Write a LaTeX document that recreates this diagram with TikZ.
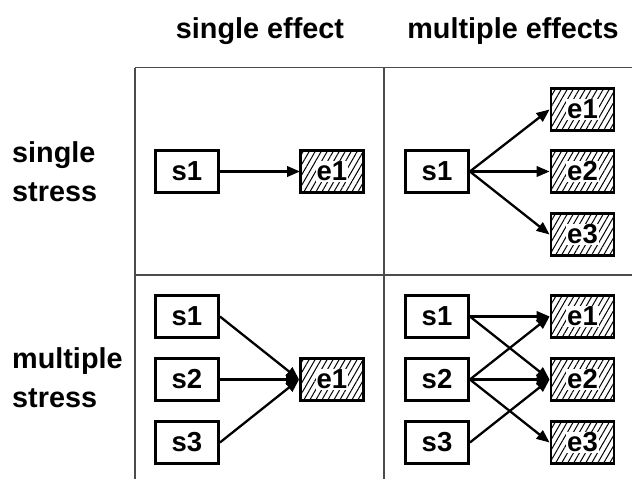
\documentclass[tikz,border=0pt]{standalone}
\usepackage{fontspec}
\setmainfont{Liberation Sans}
\usetikzlibrary{arrows.meta,patterns.meta}
\newcommand{\haloed}[1]{{\setlength{\fboxsep}{0.8pt}\colorbox{white}{#1}}}
\tikzset{
  grid/.style={draw=black!70, line width=1.3pt},
  sbox/.style={draw=black, line width=2.8pt, minimum width=63pt, minimum height=42pt, inner sep=0pt, font=\fontsize{27.5}{30}\selectfont\bfseries},
  ebox/.style={sbox, pattern={Lines[angle=60,distance=5.2pt,line width=1pt]}},
  link/.style={line width=2.3pt, -{Triangle[length=13pt,width=10.5pt]}},
  head/.style={anchor=base, inner sep=0pt, font=\fontsize{28.8}{34}\selectfont\bfseries},
  rowlab/.style={anchor=west, inner sep=0pt, align=left, font=\fontsize{28.8}{39}\selectfont\bfseries}
}
\begin{document}
\begin{tikzpicture}[x=1pt,y=-1pt]
\useasboundingbox (0,0) rectangle (632,479);
% grid
\coordinate (gTL) at (135,67.5);
\coordinate (gTR) at (632,67.5);
\coordinate (gML) at (135,275);
\coordinate (gMR) at (632,275);
\coordinate (gBL) at (135,479);
\coordinate (gTM) at (384,67.5);
\coordinate (gBM) at (384,479);
\draw[grid] (gTL) -- (gTR);
\draw[grid] (gML) -- (gMR);
\draw[grid] (gTL) -- (gBL);
\draw[grid] (gTM) -- (gBM);
% headers
\node[head] (h1) at (260,38) {single effect};
\node[head] (h2) at (513,38) {multiple effects};
\node[rowlab] (r1) at (12,172) {single\\stress};
\node[rowlab] (r2) at (12,377.5) {multiple\\stress};
% top-left
\node[sbox] (a1) at (187,171.5) {s1};
\node[ebox] (ae1) at (332,171.5) {\haloed{e1}};
\draw[link] (a1.east) -- (ae1.west);
% top-right
\node[sbox] (b1) at (437,171.5) {s1};
\node[ebox] (be1) at (582.5,109.5) {\haloed{e1}};
\node[ebox] (be2) at (582.5,171.5) {\haloed{e2}};
\node[ebox] (be3) at (582.5,234.5) {\haloed{e3}};
\draw[link] (b1.east) -- (be1.west);
\draw[link] (b1.east) -- (be2.west);
\draw[link] (b1.east) -- (be3.west);
% bottom-left
\node[sbox] (c1) at (187,316.5) {s1};
\node[sbox] (c2) at (187,379.5) {s2};
\node[sbox] (c3) at (187,442.5) {s3};
\node[ebox] (ce1) at (332,379.5) {\haloed{e1}};
\draw[link] (c1.east) -- (ce1.west);
\draw[link] (c2.east) -- (ce1.west);
\draw[link] (c3.east) -- (ce1.west);
% bottom-right
\node[sbox] (d1) at (437,316.5) {s1};
\node[sbox] (d2) at (437,379.5) {s2};
\node[sbox] (d3) at (437,442.5) {s3};
\node[ebox] (de1) at (582.5,316.5) {\haloed{e1}};
\node[ebox] (de2) at (582.5,379.5) {\haloed{e2}};
\node[ebox] (de3) at (582.5,442.5) {\haloed{e3}};
\draw[link] (d1.east) -- (de1.west);
\draw[link] (d1.east) -- (de2.west);
\draw[link] (d2.east) -- (de1.west);
\draw[link] (d2.east) -- (de2.west);
\draw[link] (d2.east) -- (de3.west);
\draw[link] (d3.east) -- (de2.west);
\end{tikzpicture}
\end{document}
